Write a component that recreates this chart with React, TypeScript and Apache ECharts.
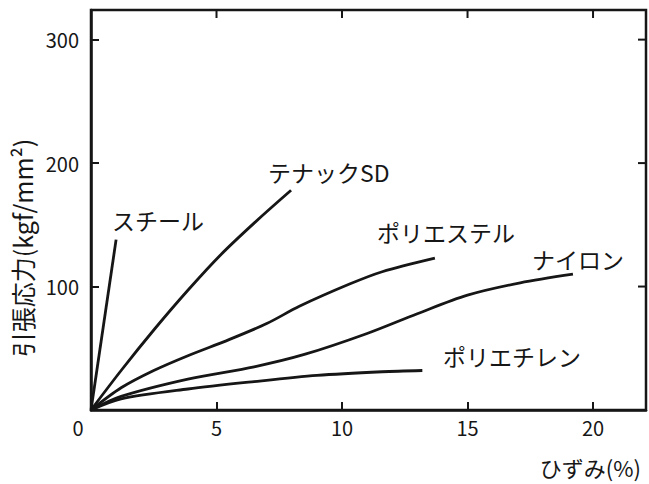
import React, { useEffect, useRef } from "react";
import * as echarts from "echarts";

const xTicks = [0, 5, 10, 15, 20];
const yTicks = [0, 100, 200, 300];
const topTicks = [5, 10, 15, 20];
const rightTicks = [100, 200, 300];

const seriesNames = ["スチール", "テナックSD", "ポリエステル", "ナイロン", "ポリエチレン"];

const steel = [[0, 0], [1.0, 138]];
const tenac = [[0, 0], [1.2, 32], [2.55, 66], [3.86, 97], [5.18, 126], [6.53, 152], [7.97, 178]];
const polyester = [[0, 0], [1.2, 18], [2.5, 32], [3.86, 44], [5.5, 57], [7.0, 70], [8.3, 84], [10.3, 102], [11.6, 112], [13.7, 123]];
const nylon = [[0, 0], [1.2, 11], [3.86, 25], [6.5, 35], [8.5, 45], [11, 62], [13, 78], [15, 93], [17.1, 103], [19.2, 110]];
const polyethylene = [[0, 0], [1.2, 9], [3.86, 17], [6.5, 23], [9.0, 28], [11.6, 31], [13.2, 32]];

const allData = [steel, tenac, polyester, nylon, polyethylene];

const xName = "ひずみ(%)";
const yName = "引張応力(kgf/mm²)";

const X_MAX = 22.11;
const Y_MAX = 324;

const FONT = "'Noto Sans CJK JP', 'Noto Sans', sans-serif";
const INK = "#161616";

export default function App() {
  const ref = useRef<HTMLDivElement>(null);
  useEffect(() => {
    if (!ref.current) return;
    const chart = echarts.init(ref.current, undefined, { renderer: "svg" });
    const axisLine = () => ({ show: true, onZero: false, lineStyle: { color: INK, width: 2.5 } });
    const tick = () => ({ show: true, inside: true, length: 8, lineStyle: { color: INK, width: 2 } });
    const labelPos: Record<string, [number, number]> = {
      "スチール": [112, 220],
      "テナックSD": [268, 172],
      "ポリエステル": [377, 232],
      "ナイロン": [532, 259],
      "ポリエチレン": [443, 356],
    };
    const textGraphics: any[] = [
      ...seriesNames.map((n) => ({
        type: "text",
        x: labelPos[n][0],
        y: labelPos[n][1],
        style: {
          text: n,
          fill: INK,
          font: `23px ${FONT}`,
          textAlign: "left",
          textVerticalAlign: "middle",
        },
      })),
      {
        type: "text",
        x: 641,
        y: 467,
        style: { text: xName, fill: INK, font: `22px ${FONT}`, textAlign: "right", textVerticalAlign: "middle" },
      },
      {
        type: "text",
        x: 22,
        y: 248,
        rotation: Math.PI / 2,
        style: { text: yName, fill: INK, font: `25px ${FONT}`, textAlign: "center", textVerticalAlign: "middle" },
      },
    ];
    chart.setOption({
      animation: false,
      backgroundColor: "#ffffff",
      textStyle: { fontFamily: FONT },
      grid: {
        left: 91,
        right: 3,
        top: 10,
        bottom: 74,
        show: true,
        borderColor: INK,
        borderWidth: 2.5,
        backgroundColor: "transparent",
        outerBoundsMode: "none",
      },
      xAxis: {
        type: "value",
        min: 0,
        max: X_MAX,
        interval: 5,
        axisLine: axisLine(),
        splitLine: { show: false },
        axisTick: tick(),
        axisLabel: {
          color: INK,
          fontSize: 20,
          fontFamily: FONT,
          margin: 7,
          showMaxLabel: false,
          formatter: (v: number) => (xTicks.includes(v) ? (v === 0 ? "{z|0}" : String(v)) : ""),
          rich: { z: { fontSize: 20, fontFamily: FONT, color: INK, padding: [0, 26, 0, 0] } },
        },
      },
      yAxis: {
        type: "value",
        min: 0,
        max: Y_MAX,
        interval: 100,
        axisLine: axisLine(),
        splitLine: { show: false },
        axisTick: tick(),
        axisLabel: {
          color: INK,
          fontSize: 20,
          fontFamily: FONT,
          margin: 12,
          formatter: (v: number) => (yTicks.includes(v) && v !== 0 ? String(v) : ""),
        },
      },
      series: allData.map((d, i) => ({
        name: seriesNames[i],
        type: "line",
        data: d,
        smooth: 0.3,
        symbol: "none",
        lineStyle: { color: INK, width: 2.8 },
      })),
      graphic: textGraphics,
    });
    // mirrored ticks on the top and right frame, positioned through the chart's own scales
    const tickGraphics: any[] = [];
    topTicks.forEach((v) => {
      const p = chart.convertToPixel({ seriesIndex: 0 }, [v, Y_MAX]) as number[];
      if (p && isFinite(p[0]) && isFinite(p[1])) {
        tickGraphics.push({
          type: "line",
          z: 100,
          shape: { x1: p[0], y1: p[1], x2: p[0], y2: p[1] + 8 },
          style: { stroke: INK, lineWidth: 2 },
        });
      }
    });
    rightTicks.forEach((v) => {
      const p = chart.convertToPixel({ seriesIndex: 0 }, [X_MAX, v]) as number[];
      if (p && isFinite(p[0]) && isFinite(p[1])) {
        tickGraphics.push({
          type: "line",
          z: 100,
          shape: { x1: p[0], y1: p[1], x2: p[0] - 8, y2: p[1] },
          style: { stroke: INK, lineWidth: 2 },
        });
      }
    });
    chart.setOption({ graphic: [...textGraphics, ...tickGraphics] });
    return () => chart.dispose();
  }, []);
  return (
    <div
      ref={ref}
      style={{ position: "fixed", left: 0, top: 0, width: 649, height: 484 }}
    />
  );
}
